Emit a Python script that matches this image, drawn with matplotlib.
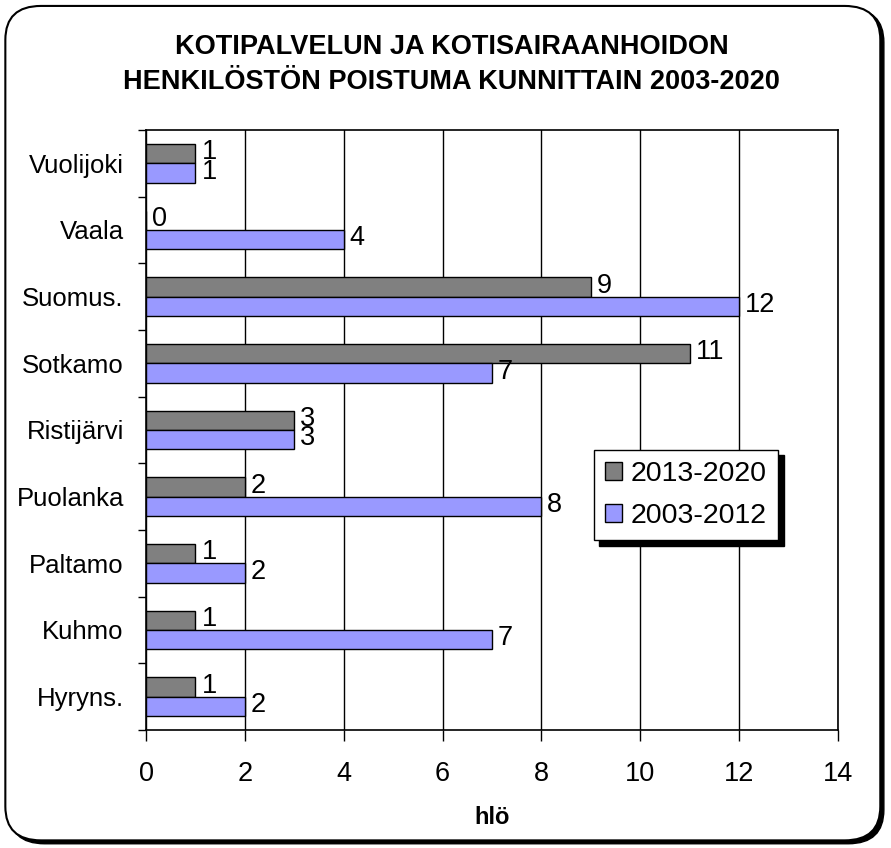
import matplotlib.pyplot as plt
from matplotlib.patches import FancyBboxPatch
import numpy as np

plt.rcParams['font.family'] = ['Liberation Sans', 'DejaVu Sans']

# data (bottom to top)
kunnat = ['Hyryns.', 'Kuhmo', 'Paltamo', 'Puolanka', 'Ristijärvi',
          'Sotkamo', 'Suomus.', 'Vaala', 'Vuolijoki']
v2013_2020 = [1, 1, 1, 2, 3, 11, 9, 0, 1]
v2003_2012 = [2, 7, 2, 8, 3, 7, 12, 4, 1]
sarjat = ['2013-2020', '2003-2012']

fig = plt.figure(figsize=(8.91, 8.48), dpi=100)

# rounded frame with shadow
shadow = FancyBboxPatch((0.010, 0.005), 0.982, 0.985, boxstyle='round,pad=0,rounding_size=0.04',
                        transform=fig.transFigure, facecolor='black', edgecolor='black', zorder=0)
frame = FancyBboxPatch((0.006, 0.009), 0.982, 0.984, boxstyle='round,pad=0,rounding_size=0.04',
                       transform=fig.transFigure, facecolor='white', edgecolor='black',
                       linewidth=1.5, zorder=1)
fig.patches.extend([shadow, frame])

ax = fig.add_axes([0.1639, 0.1392, 0.7766, 0.7075])
ax.set_zorder(2)

y = np.arange(len(kunnat))
h = 0.29
b1 = ax.barh(y + h / 2, v2013_2020, height=h, color='#808080', edgecolor='black',
             linewidth=1, label=sarjat[0], zorder=3)
b2 = ax.barh(y - h / 2, v2003_2012, height=h, color='#9999FF', edgecolor='black',
             linewidth=1, label=sarjat[1], zorder=3)

for bars, vals in ((b1, v2013_2020), (b2, v2003_2012)):
    for bar, v in zip(bars, vals):
        ax.text(v + 0.12, bar.get_y() + bar.get_height() / 2 + 0.02, str(v),
                va='center', ha='left', fontsize=19.5)

ax.set_xlim(0, 14)
ax.set_ylim(-0.5, len(kunnat) - 0.5)
ax.set_xticks(np.arange(0, 15, 2))
ax.xaxis.grid(True, color='black', linewidth=1)
ax.set_axisbelow(True)
ax.tick_params(axis='x', labelsize=19.5, length=8, pad=14, width=1)
ax.set_yticks(y)
ax.set_yticklabels(kunnat, fontsize=18.5)
ax.tick_params(axis='y', length=0, pad=16)
ax.set_yticks(np.arange(-0.5, len(kunnat), 1), minor=True)
ax.tick_params(axis='y', which='minor', length=6, width=1)
for s in ax.spines.values():
    s.set_linewidth(1.2)

ax.set_xlabel('hlö', fontsize=17, fontweight='bold', labelpad=14)
fig.text(0.507, 0.924, 'KOTIPALVELUN JA KOTISAIRAANHOIDON\nHENKILÖSTÖN POISTUMA KUNNITTAIN 2003-2020',
         ha='center', va='center', fontsize=19.5, fontweight='bold', linespacing=1.45)

leg = ax.legend(loc='upper left', bbox_to_anchor=(0.647, 0.467), fontsize=20.5,
                frameon=True, fancybox=False, edgecolor='black', framealpha=1,
                shadow={'color': 'black', 'alpha': 1, 'ox': 4, 'oy': -4},
                handlelength=0.6, handleheight=0.6, handletextpad=0.3,
                borderpad=0.4, labelspacing=0.55, borderaxespad=0)
leg.get_frame().set_linewidth(1)

fig.savefig('out.png', dpi=100)
